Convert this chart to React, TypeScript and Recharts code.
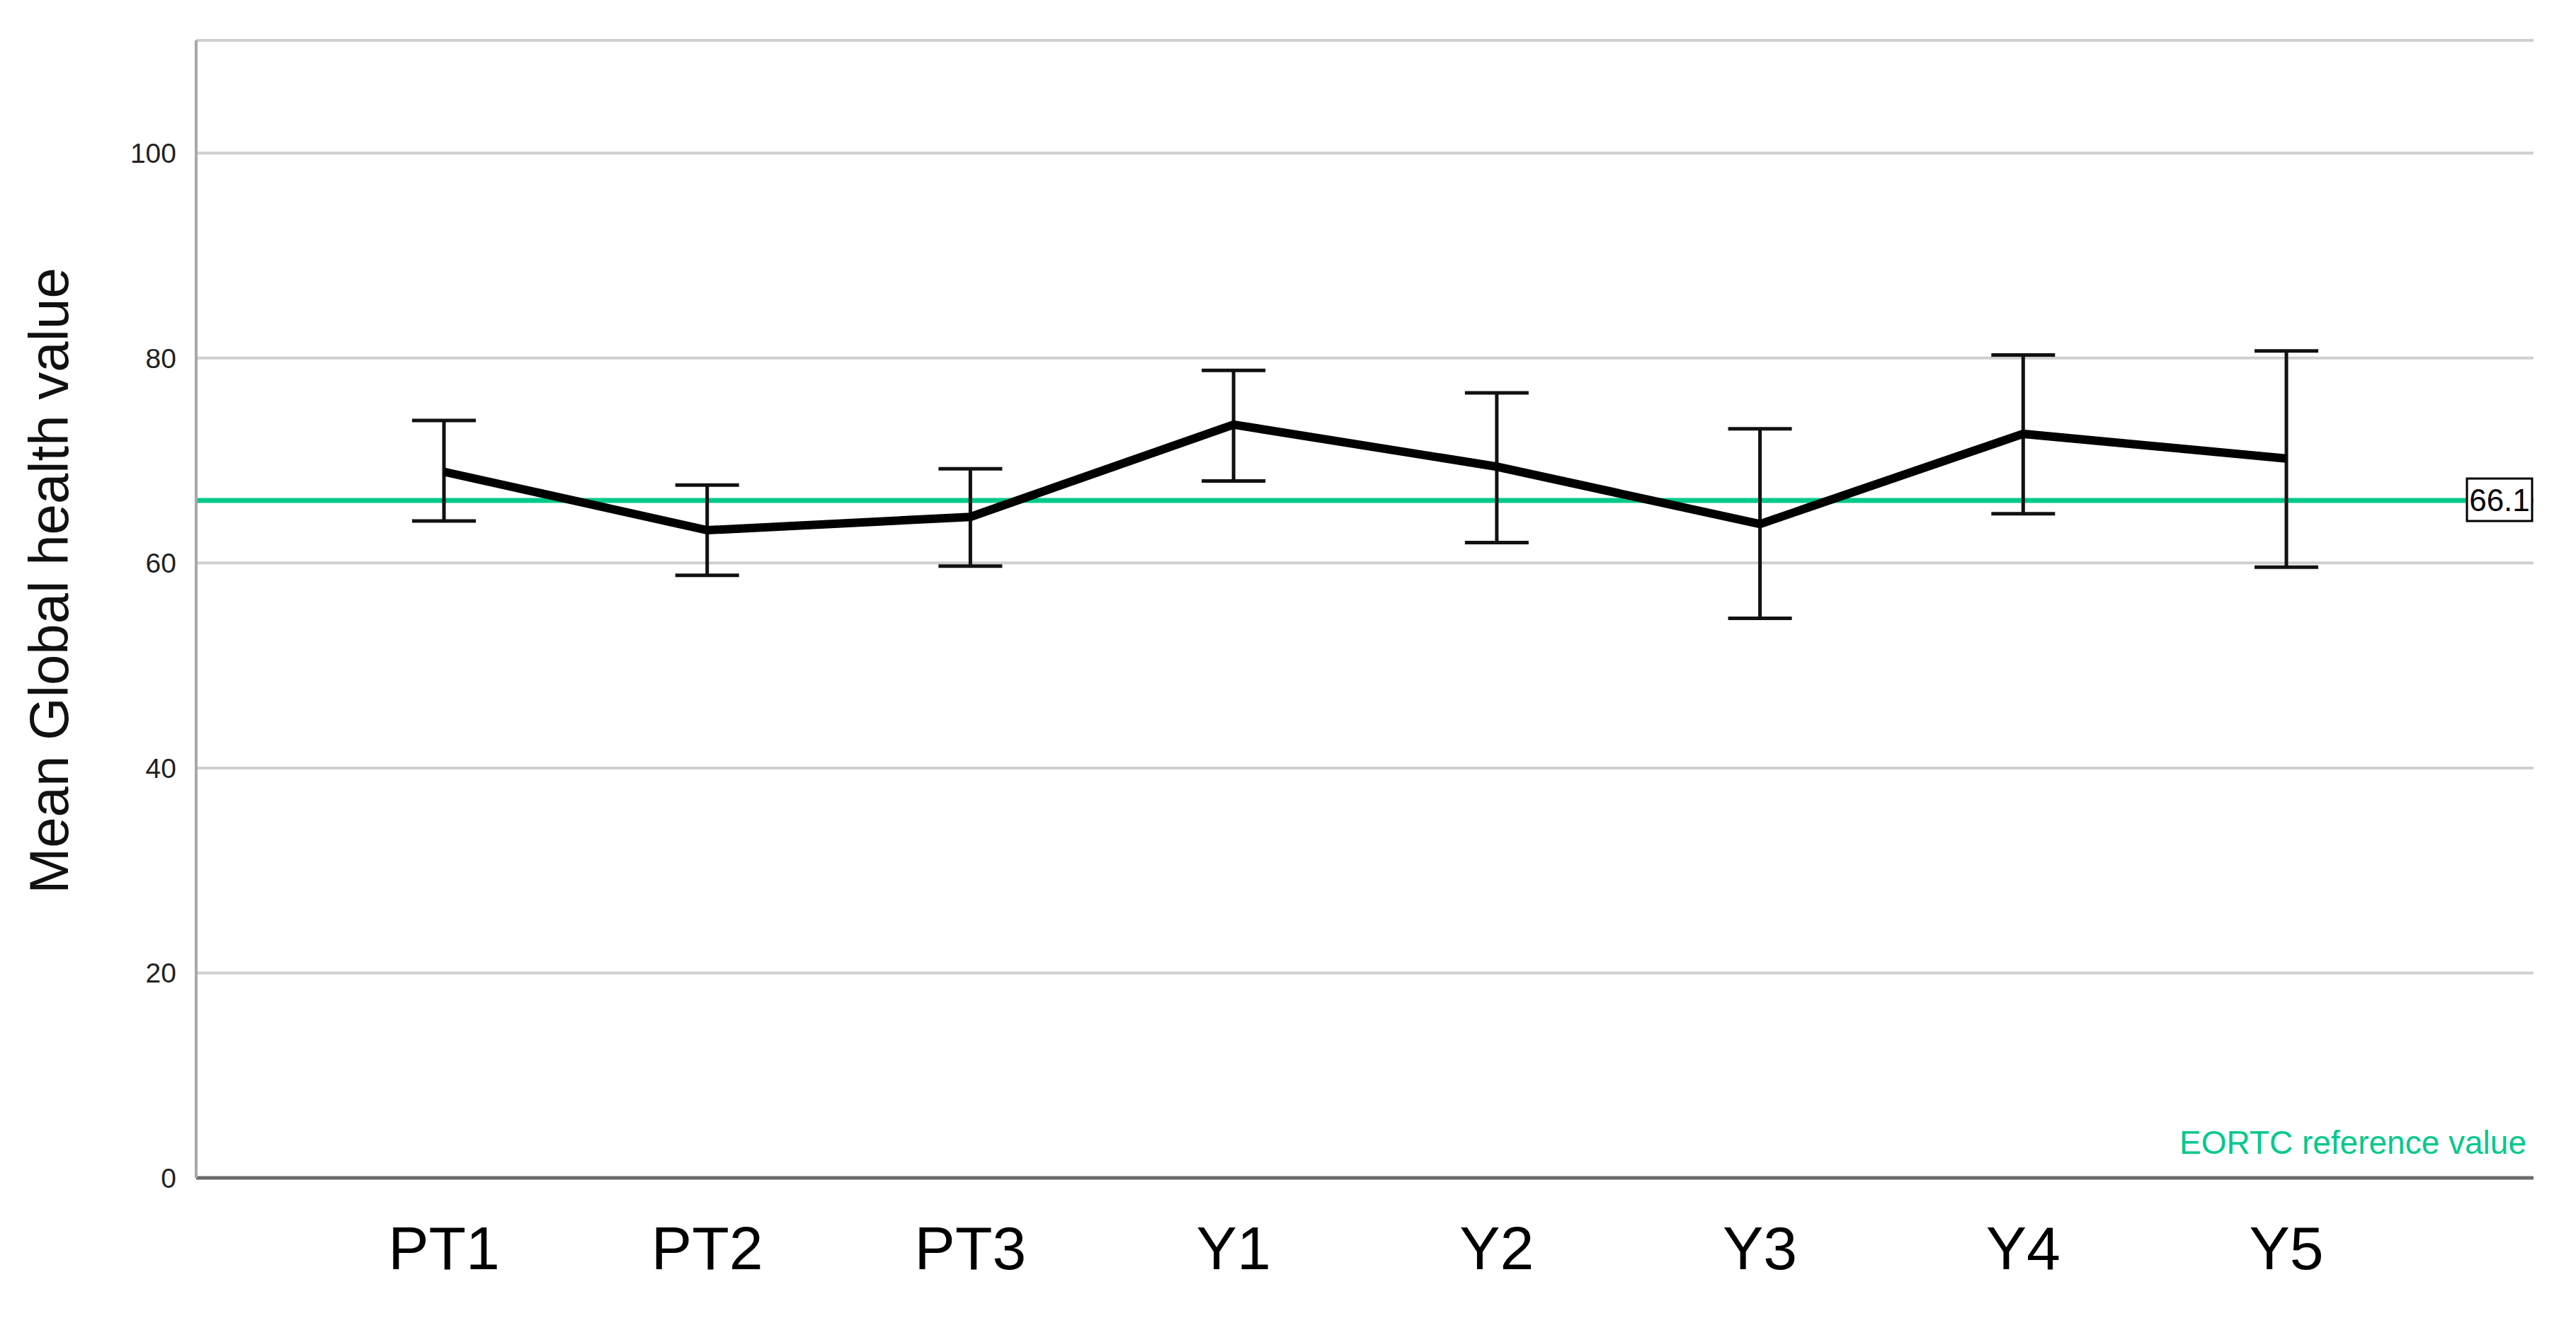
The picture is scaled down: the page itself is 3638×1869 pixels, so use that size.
import { CartesianGrid, ErrorBar, Line, LineChart, ReferenceLine, XAxis, YAxis } from 'recharts'

const timepoints = ['PT1', 'PT2', 'PT3', 'Y1', 'Y2', 'Y3', 'Y4', 'Y5']
const meanValues = [68.9, 63.2, 64.5, 73.5, 69.4, 63.8, 72.6, 70.2]
const lowerCI = [64.1, 58.8, 59.7, 68.0, 62.0, 54.6, 64.8, 59.6]
const upperCI = [73.9, 67.6, 69.2, 78.8, 76.6, 73.1, 80.3, 80.7]
const yTicks = [0, 20, 40, 60, 80, 100]
const referenceValue = 66.1

const GREEN = '#00c98b'
const FONT = '"Liberation Sans", Arial, sans-serif'

const rows = timepoints.map((t, i) => ({
  label: t,
  mean: meanValues[i],
  err: [meanValues[i] - lowerCI[i], upperCI[i] - meanValues[i]],
}))

function ValueBox(props: any) {
  const vb = props.viewBox
  if (!vb) return null
  const right = vb.x + vb.width
  return (
    <g>
      <rect x={right - 94} y={vb.y - 31} width={92} height={60} fill="#fff" stroke="#000" strokeWidth={3} />
      <text x={right - 48} y={vb.y + 15} textAnchor="middle" fontSize={44} fontFamily={FONT} fill="#000">
        {referenceValue}
      </text>
    </g>
  )
}

function RefCaption(props: any) {
  const vb = props.viewBox
  if (!vb) return null
  return (
    <text x={vb.x + vb.width - 10} y={vb.y - 34} textAnchor="end" fontSize={46} fontFamily={FONT} fill={GREEN}>
      EORTC reference value
    </text>
  )
}

function YTitle(props: any) {
  const vb = props.viewBox
  if (!vb) return null
  const cx = 61
  const cy = vb.y + vb.height / 2 - 40
  return (
    <text
      x={cx}
      y={cy}
      transform={`rotate(-90 ${cx} ${cy})`}
      textAnchor="middle"
      dominantBaseline="central"
      fontSize={78}
      fontFamily={FONT}
      fill="#111"
    >
      Mean Global health value
    </text>
  )
}

export default function App() {
  return (
    <div style={{ width: 3622, height: 1853, background: '#fff' }}>
      <LineChart width={3622} height={1853} data={rows} margin={{ top: 49, right: 52, left: 0, bottom: 0 }}>
        <CartesianGrid vertical={false} stroke="#cfcfcf" strokeWidth={4} />
        <XAxis
          dataKey="label"
          height={197}
          padding={{ left: 350, right: 349 }}
          tickLine={false}
          tickMargin={62}
          axisLine={{ stroke: '#6a6a6a', strokeWidth: 5 }}
          tick={{ fontSize: 86, fontFamily: FONT, fill: '#000' }}
        />
        <YAxis
          width={269}
          domain={[0, 111]}
          ticks={yTicks}
          allowDataOverflow
          tickLine={false}
          tickMargin={22}
          axisLine={{ stroke: '#a8a8a8', strokeWidth: 4 }}
          tick={{ fontSize: 39, fontFamily: FONT, fill: '#222' }}
          label={<YTitle />}
        />
        <ReferenceLine y={0} stroke="none" label={<RefCaption />} />
        <ReferenceLine y={referenceValue} stroke={GREEN} strokeWidth={7} label={<ValueBox />} />
        <Line
          type="linear"
          dataKey="mean"
          stroke="#000"
          strokeWidth={12}
          dot={false}
          activeDot={false}
          isAnimationActive={false}
        >
          <ErrorBar dataKey="err" direction="y" width={45} stroke="#111" strokeWidth={5} isAnimationActive={false} />
        </Line>
      </LineChart>
    </div>
  )
}
